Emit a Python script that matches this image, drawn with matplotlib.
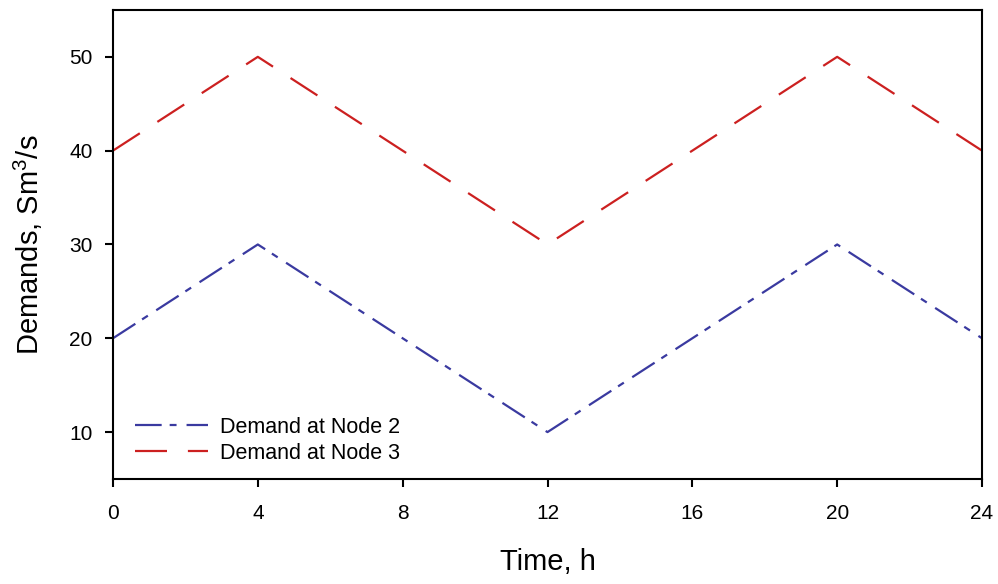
import matplotlib
matplotlib.use("Agg")
import matplotlib.pyplot as plt

plt.rcParams['font.family'] = ['Liberation Sans', 'DejaVu Sans']
plt.rcParams['mathtext.fontset'] = 'custom'
plt.rcParams['mathtext.rm'] = 'Liberation Sans'

time_h = [0, 4, 12, 20, 24]
demand_node2 = [20, 30, 10, 30, 20]
demand_node3 = [40, 50, 30, 50, 40]
x_ticks = [0, 4, 8, 12, 16, 20, 24]
y_ticks = [10, 20, 30, 40, 50]

fig = plt.figure(figsize=(9.98, 5.84), dpi=100)
ax = fig.add_axes([0.1132, 0.1798, 0.8708, 0.8032])

ax.plot(time_h, demand_node2, color='#3a3aa0', lw=1.6,
        dashes=(12, 3.6, 3.1, 4.5), label='Demand at Node 2')
ax.plot(time_h, demand_node3, color='#cc2020', lw=1.6,
        dashes=(14.4, 9.4), label='Demand at Node 3')

ax.set_xlim(0, 24)
ax.set_ylim(5, 55)
ax.set_xticks(x_ticks)
ax.set_yticks(y_ticks)
ax.tick_params(direction='out', length=5.8, width=1.5, labelsize=15)
ax.tick_params(axis='x', pad=12)
ax.tick_params(axis='y', pad=9)
for s in ax.spines.values():
    s.set_linewidth(1.5)

ax.set_xlabel('Time, h', fontsize=21, labelpad=18)
ax.set_ylabel('Demands, Sm$^\\mathregular{3}$/s', fontsize=21)
ax.yaxis.set_label_coords(-0.078, 0.5)

ax.legend(loc='lower left', frameon=False, fontsize=15.5, handlelength=3.4,
          handletextpad=0.55, borderaxespad=0.0, borderpad=0.0,
          bbox_to_anchor=(0.025, 0.032), labelspacing=0.25)

fig.savefig('out.png', dpi=100)
